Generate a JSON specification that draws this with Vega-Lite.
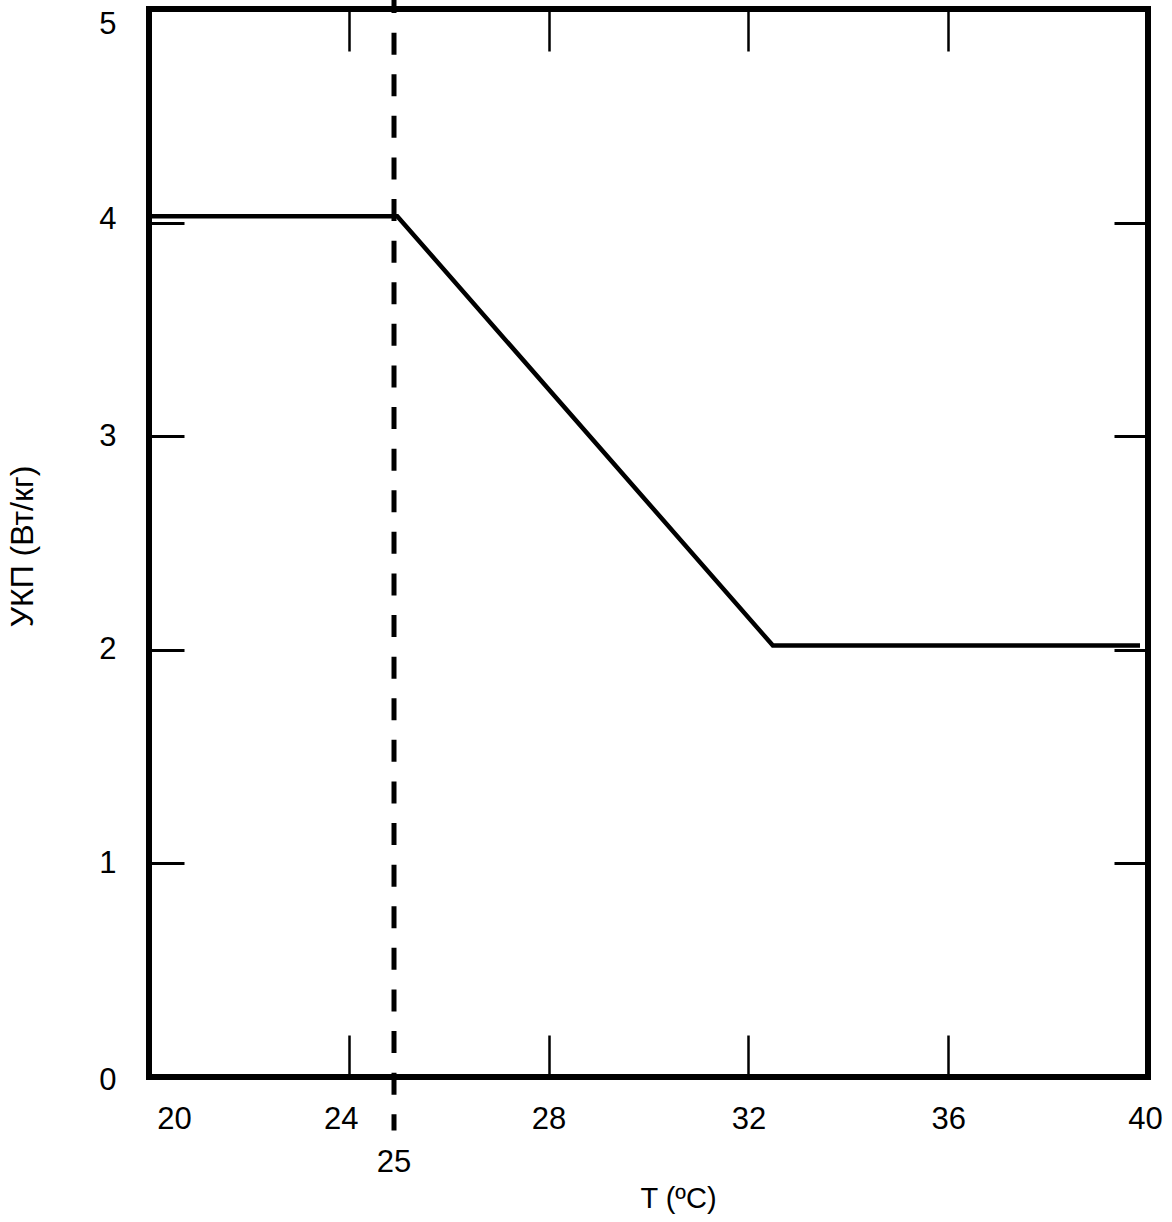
{
  "$schema": "https://vega.github.io/schema/vega-lite/v6.json",
  "width": 999,
  "height": 1068,
  "autosize": {"type": "none"},
  "padding": {"left": 149, "top": 9, "right": 24, "bottom": 145},
  "background": "white",
  "config": {
    "view": {"stroke": "black", "strokeWidth": 6},
    "font": "Liberation Sans",
    "axis": {"domain": false, "grid": false, "tickColor": "black", "labelColor": "black", "titleColor": "black", "labelFont": "Liberation Sans", "titleFont": "Liberation Sans", "titleFontWeight": "normal"}
  },
  "datasets": {
    "curve": [
      {"T": 20, "ukp": 4.03},
      {"T": 24.97, "ukp": 4.03},
      {"T": 32.49, "ukp": 2.02},
      {"T": 39.84, "ukp": 2.02}
    ],
    "ref": [
      {"T": 24.905, "top": 5.084, "bottom": -0.25, "label": "25", "labelY": -0.403}
    ]
  },
  "resolve": {"axis": {"x": "independent", "y": "independent"}},
  "layer": [
    {
      "data": {"name": "ref"},
      "mark": {"type": "rule", "color": "black", "strokeWidth": 5, "strokeDash": [22, 19.6], "clip": false},
      "encoding": {
        "x": {"field": "T", "type": "quantitative", "scale": {"domain": [20, 40], "nice": false, "zero": false},
          "axis": {"orient": "top", "values": [20, 24, 28, 32, 36, 40], "labels": false, "title": null, "tickSize": -42, "tickWidth": 2.5}},
        "y": {"field": "top", "type": "quantitative", "scale": {"domain": [0, 5], "nice": false},
          "axis": {"orient": "right", "values": [0, 1, 2, 3, 4, 5], "labels": false, "title": null, "tickSize": -34, "tickWidth": 3}},
        "y2": {"field": "bottom"}
      }
    },
    {
      "data": {"name": "curve"},
      "mark": {"type": "line", "color": "black", "strokeWidth": 4.5},
      "encoding": {
        "x": {"field": "T", "type": "quantitative",
          "axis": {"orient": "bottom", "values": [20, 24, 28, 32, 36, 40], "tickSize": -42, "tickWidth": 2.5,
            "labelFontSize": 31, "labelPadding": 69, "labelFlush": false, "labelBaseline": "top",
            "labelOffset": {"condition": [{"test": "datum.value == 20", "value": 25}, {"test": "datum.value == 24", "value": -8}, {"test": "datum.value == 40", "value": -3}], "value": 0},
            "title": "T (ºC)", "titleFontSize": 29, "titleX": 529, "titleY": 130, "titleBaseline": "alphabetic", "titleAlign": "center"}},
        "y": {"field": "ukp", "type": "quantitative",
          "axis": {"orient": "left", "values": [0, 1, 2, 3, 4, 5], "tickSize": -35, "tickWidth": 3,
            "labelFontSize": 31, "labelPadding": 68,
            "labelOffset": {"condition": [{"test": "datum.value == 5", "value": 15}, {"test": "datum.value == 4", "value": -3}, {"test": "datum.value == 0", "value": 3}], "value": 0},
            "title": "УКП (Вт/кг)", "titleFontSize": 32, "titleAngle": -90, "titleX": -117, "titleY": 537, "titleBaseline": "alphabetic", "titleAlign": "center"}}
      }
    },
    {
      "data": {"name": "ref"},
      "mark": {"type": "text", "color": "black", "fontSize": 31, "font": "Liberation Sans", "align": "center", "baseline": "middle", "clip": false},
      "encoding": {
        "x": {"field": "T", "type": "quantitative", "axis": null},
        "y": {"field": "labelY", "type": "quantitative", "axis": null},
        "text": {"field": "label"}
      }
    }
  ]
}
